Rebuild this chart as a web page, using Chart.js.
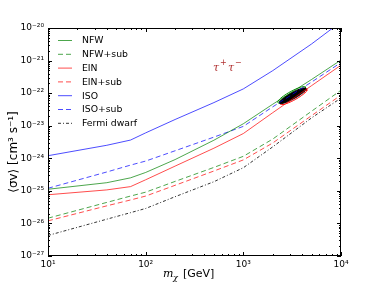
<!DOCTYPE html>
<html>
<head>
<meta charset="utf-8">
<script src="https://cdn.jsdelivr.net/npm/chart.js@4.4.1/dist/chart.umd.min.js"></script>
<style>
  html, body { margin: 0; padding: 0; background: #fff; }
  #wrap { width: 379px; height: 285px; }
</style>
</head>
<body>
<div id="wrap"><canvas id="chart" width="379" height="285"></canvas></div>
<script>
// dark matter mass in GeV
var masses = [10, 40, 70, 100, 200, 500, 1000, 2000, 5000, 10000];

// <sigma v> limits, cm^3 s^-1
var nfw     = [1.12e-25, 1.78e-25, 2.51e-25, 3.67e-25, 9.12e-25, 3.59e-24, 1.15e-23, 4.57e-23, 2.63e-22, 1.04e-21];
var nfwSub  = [1.45e-26, 4.42e-26, 6.92e-26, 9.12e-26, 1.95e-25, 5.25e-25, 1.15e-24, 3.89e-24, 2.79e-23, 1.23e-22];
var ein     = [7.59e-26, 1.07e-25, 1.35e-25, 2.19e-25, 5.75e-25, 2.04e-24, 5.75e-24, 2.51e-23, 1.70e-22, 7.24e-22];
var einSub  = [1.20e-26, 3.47e-26, 5.25e-26, 6.92e-26, 1.48e-25, 4.07e-25, 8.91e-25, 2.95e-24, 2.04e-23, 8.71e-23];
var iso     = [1.20e-24, 2.51e-24, 3.63e-24, 6.03e-24, 1.55e-23, 5.13e-23, 1.35e-22, 4.90e-22, 3.24e-21, 1.55e-20];
var isoSub  = [1.20e-25, 3.80e-25, 6.17e-25, 8.22e-25, 1.70e-24, 4.47e-24, 9.55e-24, 3.80e-23, 2.19e-22, 8.71e-22];
var fermi   = [4.27e-27, 1.35e-26, 2.14e-26, 2.88e-26, 6.61e-26, 1.91e-25, 5.13e-25, 2.24e-24, 1.74e-23, 7.08e-23];

var xTicks = [10, 100, 1000, 10000];
var yTicks = [1e-27, 1e-26, 1e-25, 1e-24, 1e-23, 1e-22, 1e-21, 1e-20];

// GC excess contour (centre, axes in decades)
var blobCenter = [3200, 8.3e-23];
var blobMajor = [0.135, 0.225];
var blobMinor = [0.016, -0.085];

var green = "rgba(0,128,0,0.7)";
var red = "rgba(255,0,0,0.7)";
var blue = "rgba(0,0,255,0.7)";

function pts(ys) {
  return masses.map((m, i) => ({ x: m, y: ys[i] }));
}

function blob(s, dx, dy) {
  var out = [];
  var cx = Math.log10(blobCenter[0]), cy = Math.log10(blobCenter[1]);
  for (var i = 0; i <= 48; i++) {
    var t = i / 48 * 2 * Math.PI;
    var lx = cx + dx + s * (Math.cos(t) * blobMajor[0] + Math.sin(t) * blobMinor[0]);
    var ly = cy + dy + s * (Math.cos(t) * blobMajor[1] + Math.sin(t) * blobMinor[1]);
    out.push({ x: Math.pow(10, lx), y: Math.pow(10, ly) });
  }
  return out;
}

function line(label, ys, color, dash) {
  return {
    label: label, data: pts(ys), borderColor: color, borderWidth: 1,
    borderDash: dash || [], pointRadius: 0, tension: 0, fill: false
  };
}

function contour(data, color, filled) {
  return {
    label: "", contour: true, data: data, borderColor: color, borderWidth: 1,
    backgroundColor: filled ? "#000" : "transparent", fill: filled ? "shape" : false,
    pointRadius: 0, tension: 0
  };
}

var sup = { "0": "⁰", "1": "¹", "2": "²", "3": "³", "4": "⁴", "5": "⁵", "6": "⁶", "7": "⁷", "8": "⁸", "9": "⁹", "-": "⁻" };
function pow10(v) {
  var e = String(Math.round(Math.log10(v)));
  return "10" + e.split("").map(c => sup[c]).join("");
}

var decor = {
  id: "decor",
  afterDraw(chart) {
    var ctx = chart.ctx, a = chart.chartArea;
    var xs = chart.scales.x, ys = chart.scales.y;
    ctx.save();
    ctx.strokeStyle = "#000";
    ctx.lineWidth = 1;
    ctx.strokeRect(Math.round(a.left) + 0.5, Math.round(a.top) + 0.5,
      Math.round(a.right - a.left) - 1, Math.round(a.bottom - a.top) - 1);

    ctx.beginPath();
    for (var e = 1; e <= 4; e++) {
      for (var k = 1; k <= 9; k++) {
        var v = k * Math.pow(10, e);
        if (v > 10000) break;
        var px = Math.round(xs.getPixelForValue(v)) + 0.5;
        var len = k === 1 ? 4 : 2;
        ctx.moveTo(px, a.bottom); ctx.lineTo(px, a.bottom - len);
        ctx.moveTo(px, a.top); ctx.lineTo(px, a.top + len);
      }
    }
    for (var e = -27; e <= -20; e++) {
      for (var k = 1; k <= 9; k++) {
        var v = k * Math.pow(10, e);
        if (v > 1.01e-20) break;
        var py = Math.round(ys.getPixelForValue(v)) + 0.5;
        var len = k === 1 ? 4 : 2;
        ctx.moveTo(a.left, py); ctx.lineTo(a.left + len, py);
        ctx.moveTo(a.right, py); ctx.lineTo(a.right - len, py);
      }
    }
    ctx.stroke();

    // legend
    ctx.font = "9.3px 'DejaVu Sans'";
    ctx.textBaseline = "middle";
    ctx.fillStyle = "#000";
    var ly = 40.5;
    chart.data.datasets.forEach(ds => {
      if (ds.contour) return;
      ctx.beginPath();
      ctx.strokeStyle = ds.borderColor;
      ctx.setLineDash(ds.borderDash);
      ctx.moveTo(58, ly); ctx.lineTo(72, ly);
      ctx.stroke();
      ctx.setLineDash([]);
      ctx.fillText(ds.label, 82, ly + 0.5);
      ly += 13.8;
    });

    // channel
    ctx.fillStyle = "#b03030";
    ctx.font = "italic 11px 'DejaVu Serif'";
    ctx.textBaseline = "alphabetic";
    ctx.fillText("τ", 213, 71);
    ctx.font = "8px 'DejaVu Sans'";
    ctx.fillText("+", 220, 65);
    ctx.font = "italic 11px 'DejaVu Serif'";
    ctx.fillText("τ", 228, 71);
    ctx.font = "8px 'DejaVu Sans'";
    ctx.fillText("−", 235, 65);

    // axis titles
    ctx.fillStyle = "#000";
    ctx.font = "italic 11px 'DejaVu Serif'";
    ctx.fillText("m", 163, 277);
    ctx.font = "italic 8px 'DejaVu Serif'";
    ctx.fillText("χ", 173, 280);
    ctx.font = "11px 'DejaVu Sans'";
    ctx.fillText("[GeV]", 183, 277);

    ctx.translate(17, 152);
    ctx.rotate(-Math.PI / 2);
    ctx.textAlign = "center";
    ctx.font = "12px 'DejaVu Sans'";
    ctx.fillText("⟨σv⟩ [cm³ s⁻¹]", 0, 0);
    ctx.restore();
  }
};

new Chart(document.getElementById("chart"), {
  type: "line",
  data: {
    datasets: [
      line("NFW", nfw, green),
      line("NFW+sub", nfwSub, green, [5, 3]),
      line("EIN", ein, red),
      line("EIN+sub", einSub, red, [5, 3]),
      line("ISO", iso, blue),
      line("ISO+sub", isoSub, blue, [5, 3]),
      line("Fermi dwarf", fermi, "rgba(0,0,0,0.8)", [3, 2, 1, 2]),
      contour(blob(1.0, 0, 0), "#000", true),
      contour(blob(1.05, -0.01, 0.03), "rgb(0,140,0)", false),
      contour(blob(0.7, 0, 0), "rgb(0,0,255)", false),
      contour(blob(1.0, 0.01, -0.03), "rgb(255,0,0)", false)
    ]
  },
  options: {
    responsive: false,
    animation: false,
    layout: { padding: { top: 28, right: 38, left: 0, bottom: 0 } },
    plugins: { legend: { display: false }, tooltip: { enabled: false } },
    scales: {
      x: {
        type: "logarithmic", min: 10, max: 10000,
        afterBuildTicks: s => { s.ticks = xTicks.map(v => ({ value: v })); },
        afterFit: s => { s.height = 29; },
        grid: { display: false, drawTicks: false },
        border: { display: false },
        ticks: {
          padding: 3, maxRotation: 0, autoSkip: false, color: "#000",
          font: { family: "DejaVu Sans", size: 9 },
          callback: v => pow10(v)
        }
      },
      y: {
        type: "logarithmic", min: 1e-27, max: 1e-20,
        afterBuildTicks: s => { s.ticks = yTicks.map(v => ({ value: v })); },
        afterFit: s => { s.width = 48; },
        grid: { display: false, drawTicks: false },
        border: { display: false },
        ticks: {
          padding: 4, autoSkip: false, color: "#000",
          font: { family: "DejaVu Sans", size: 9 },
          callback: v => pow10(v)
        }
      }
    }
  },
  plugins: [decor]
});
</script>
</body>
</html>
